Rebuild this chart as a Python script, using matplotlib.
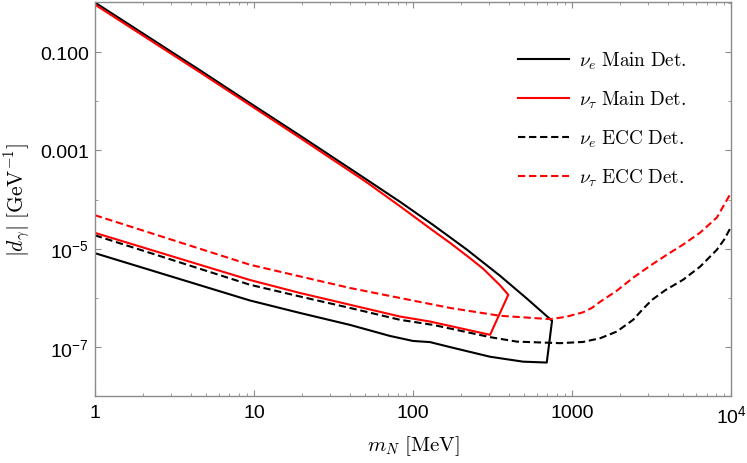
import numpy as np
import matplotlib
matplotlib.use('Agg')
import matplotlib.pyplot as plt
from matplotlib.ticker import FixedLocator, LogLocator, NullFormatter

# sans font for the ticks (Mathematica look), Computer Modern for labels/legend
plt.rcParams['font.family'] = ['Liberation Sans', 'DejaVu Sans']
plt.rcParams['mathtext.fontset'] = 'custom'
plt.rcParams['mathtext.rm'] = 'Liberation Sans'
plt.rcParams['mathtext.it'] = 'Liberation Sans:italic'
plt.rcParams['mathtext.bf'] = 'Liberation Sans:bold'

# nu_e main detector (closed contour: upper branch, then lower branch back)
ne_main_x = [1, 4.57, 9.44, 19.5, 50.6, 82.8, 133.6, 218.6, 352, 521, 748,
             693, 492, 305, 171, 128, 100, 71.6, 40.2, 19.5, 9.44, 1]
ne_main_y = [1.03, 0.043, 0.0092, 2.0e-3, 2.6e-4, 9.0e-5, 3.05e-5, 9.5e-6, 2.81e-6, 9.55e-7, 3.4e-7,
             4.8e-8, 5.0e-8, 6.3e-8, 9.9e-8, 1.25e-7, 1.32e-7, 1.67e-7, 2.8e-7, 4.9e-7, 8.8e-7, 8.1e-6]

# nu_tau main detector
nt_main_x = [1, 4.57, 19.5, 50.6, 82.8, 133.6, 171, 228, 276, 352, 397,
             305, 128, 82.8, 40.2, 19.5, 9.44, 1]
nt_main_y = [0.932, 0.0391, 1.80e-3, 2.3e-4, 7.3e-5, 2.33e-5, 1.31e-5, 6.4e-6, 3.9e-6, 1.80e-6, 1.15e-6,
             1.76e-7, 3.28e-7, 4.15e-7, 7.2e-7, 1.25e-6, 2.3e-6, 2.1e-5]

# nu_e ECC
ne_ecc_x = [1, 9.44, 19.5, 40.2, 82.8, 134, 305, 449, 841, 1172, 1500, 1910, 2420,
            2797, 3185, 3846, 4990, 6380, 8130, 9040, 10000]
ne_ecc_y = [1.87e-5, 1.84e-6, 1.06e-6, 6.2e-7, 3.56e-7, 2.8e-7, 1.58e-7, 1.28e-7, 1.19e-7, 1.26e-7,
            1.5e-7, 2.05e-7, 3.56e-7, 5.97e-7, 9.1e-7, 1.42e-6, 2.33e-6, 4.3e-6, 9.5e-6, 1.53e-5, 2.81e-5]

# nu_tau ECC
nt_ecc_x = [1, 9.44, 19.5, 40.2, 82.8, 171, 352, 727, 916, 1172, 1336, 1500, 1910, 2420,
            3100, 3950, 4990, 6380, 8130, 8900, 10000]
nt_ecc_y = [4.8e-5, 4.7e-6, 2.72e-6, 1.58e-6, 9.9e-7, 6.2e-7, 4.3e-7, 3.67e-7, 4.09e-7, 5.06e-7, 6.25e-7,
            8.28e-7, 1.39e-6, 2.56e-6, 4.5e-6, 7.55e-6, 1.21e-5, 2.12e-5, 4.3e-5, 7.2e-5, 1.39e-4]

x_ticks = [1, 10, 100, 1000, 1e4]
x_ticklabels = ['1', '10', '100', '1000', r'$10^4$']
y_ticks = [1e-7, 1e-5, 1e-3, 1e-1]
y_ticklabels = [r'$10^{-7}$', r'$10^{-5}$', '0.001', '0.100']
y_minor = [1e-8, 1e-6, 1e-4, 1e-2, 1]

labels = [r'$\nu_e\ \mathrm{Main\ Det.}$', r'$\nu_\tau\ \mathrm{Main\ Det.}$',
          r'$\nu_e\ \mathrm{ECC\ Det.}$', r'$\nu_\tau\ \mathrm{ECC\ Det.}$']

fig = plt.figure(figsize=(7.47, 4.64), dpi=100)
ax = fig.add_axes([0.127, 0.1444, 0.8518, 0.8491])

dash = (3.5, 1.8)
ax.plot(ne_main_x, ne_main_y, color='black', lw=1.5, label=labels[0])
ax.plot(nt_main_x, nt_main_y, color='red', lw=1.5, label=labels[1])
ax.plot(ne_ecc_x, ne_ecc_y, color='black', lw=1.5, dashes=dash, label=labels[2])
ax.plot(nt_ecc_x, nt_ecc_y, color='red', lw=1.5, dashes=dash, label=labels[3])

ax.set_xscale('log')
ax.set_yscale('log')
ax.set_xlim(1, 1e4)
ax.set_ylim(1e-8, 1.05)

ax.xaxis.set_major_locator(FixedLocator(x_ticks))
ax.set_xticklabels(x_ticklabels)
ax.xaxis.set_minor_locator(LogLocator(base=10, subs=np.arange(2, 10)))
ax.xaxis.set_minor_formatter(NullFormatter())
ax.yaxis.set_major_locator(FixedLocator(y_ticks))
ax.set_yticklabels(y_ticklabels)
ax.yaxis.set_minor_locator(FixedLocator(y_minor))
ax.yaxis.set_minor_formatter(NullFormatter())

frame_col = '#8c8c8c'
for s in ax.spines.values():
    s.set_color(frame_col)
    s.set_linewidth(1.0)
ax.tick_params(which='both', direction='in', top=True, right=True, color=frame_col,
               labelsize=14, labelcolor='black')
ax.tick_params(which='major', length=4.0, width=0.8)
ax.tick_params(which='minor', length=2.2, width=0.6)
ax.tick_params(axis='x', which='major', pad=6)
ax.tick_params(axis='y', which='major', pad=4)

ax.set_xlabel(r'$m_N\ [\mathrm{MeV}]$', fontsize=15, math_fontfamily='cm', labelpad=5)
ax.set_ylabel(r'$|d_\gamma|\ [\mathrm{GeV}^{-1}]$', fontsize=15.5, math_fontfamily='cm', labelpad=5)

leg = ax.legend(loc='upper left', bbox_to_anchor=(0.665, 0.88), frameon=False,
                fontsize=13.8, handlelength=2.65, handletextpad=0.55,
                labelspacing=0.93, borderpad=0, borderaxespad=0)
for t in leg.get_texts():
    t.set_math_fontfamily('cm')

fig.savefig('out.png', dpi=100)
